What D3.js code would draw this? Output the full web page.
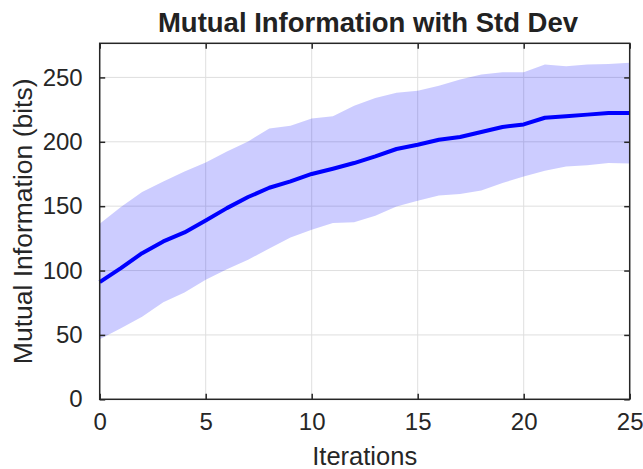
<!DOCTYPE html>
<html>
<head>
<meta charset="utf-8">
<script src="https://cdn.jsdelivr.net/npm/d3@7"></script>
<style>
  html, body { margin: 0; padding: 0; background: #fff; }
  svg { display: block; font-family: "Liberation Sans", Arial, Helvetica, sans-serif; }
</style>
</head>
<body>
<svg id="chart" width="643" height="469"></svg>
<script>
const iterations = [0,1,2,3,4,5,6,7,8,9,10,11,12,13,14,15,16,17,18,19,20,21,22,23,24,25];
const meanMI = [91.0,101.9,113.5,122.6,129.6,138.9,148.5,157.1,164.3,169.2,175.0,179.1,183.5,188.7,194.4,197.7,201.6,203.7,207.6,211.5,213.5,218.7,219.8,221.1,222.4,222.4];
const upperMI = [136.3,149.3,161.0,169.2,177.0,184.0,192.5,200.3,210.3,212.5,218.0,219.8,228.0,234.0,238.0,239.7,243.6,248.3,252.2,254.0,254.0,260.0,258.6,260.0,260.5,261.3];
const lowerMI = [46.7,55.2,64.2,75.4,82.9,92.8,101.1,108.3,117.2,125.7,131.6,136.9,137.6,142.5,149.8,154.2,158.2,159.4,162.2,168.0,173.1,177.5,180.9,181.7,183.5,183.2];
const xTicks = [0,5,10,15,20,25];
const yTicks = [0,50,100,150,200,250];
const titleText = "Mutual Information with Std Dev";
const xLabelText = "Iterations";
const yLabelText = "Mutual Information (bits)";

const svg = d3.select("#chart");
const L = 99.7, R = 629.7, T = 43.3, B = 399.3;
const x = d3.scaleLinear().domain([0, 25]).range([L, R]);
const y = d3.scaleLinear().domain([0, 276.5]).range([B, T]);
const axisColor = "#262626";
const tickLen = 5.5;

// grid
const grid = svg.append("g");
grid.selectAll(".gx").data(xTicks).enter().append("line")
  .attr("x1", d => x(d)).attr("x2", d => x(d)).attr("y1", T).attr("y2", B)
  .attr("stroke", "#dfdfdf").attr("stroke-width", 1);
grid.selectAll(".gy").data(yTicks).enter().append("line")
  .attr("x1", L).attr("x2", R).attr("y1", d => y(d)).attr("y2", d => y(d))
  .attr("stroke", "#dfdfdf").attr("stroke-width", 1);

// band
const data = iterations.map((it, i) => ({it, m: meanMI[i], u: upperMI[i], l: lowerMI[i]}));
svg.append("path").datum(data)
  .attr("d", d3.area().x(d => x(d.it)).y0(d => y(d.l)).y1(d => y(d.u)))
  .attr("fill", "rgb(0,0,255)").attr("fill-opacity", 0.2).attr("stroke", "none");

// mean line
svg.append("path").datum(data)
  .attr("d", d3.line().x(d => x(d.it)).y(d => y(d.m)))
  .attr("fill", "none").attr("stroke", "#0000ff").attr("stroke-width", 4)
  .attr("stroke-linejoin", "round");

// axes (MATLAB-style box with inward ticks)
const xAxisB = d3.axisBottom(x).tickValues(xTicks).tickSize(-tickLen).tickPadding(14).tickSizeOuter(0);
const xAxisT = d3.axisTop(x).tickValues(xTicks).tickSize(-tickLen).tickFormat("").tickSizeOuter(0);
const yAxisL = d3.axisLeft(y).tickValues(yTicks).tickSize(-tickLen).tickPadding(17).tickSizeOuter(0);
const yAxisR = d3.axisRight(y).tickValues(yTicks).tickSize(-tickLen).tickFormat("").tickSizeOuter(0);

function style(g) {
  g.select(".domain").remove();
  g.selectAll("line").attr("stroke", axisColor).attr("stroke-width", 1.5);
  g.selectAll("text").attr("fill", axisColor).style("font-size", "24px")
    .style("font-family", "'Liberation Sans', Arial, sans-serif");
}
svg.append("g").attr("transform", `translate(0,${B})`).call(xAxisB).call(style);
svg.append("g").attr("transform", `translate(0,${T})`).call(xAxisT).call(style);
svg.append("g").attr("transform", `translate(${L},0)`).call(yAxisL).call(style);
svg.append("g").attr("transform", `translate(${R},0)`).call(yAxisR).call(style);

// box
svg.append("rect").attr("x", L).attr("y", T).attr("width", R - L).attr("height", B - T)
  .attr("fill", "none").attr("stroke", axisColor).attr("stroke-width", 1.5);

// title & labels
svg.append("text").attr("x", 368).attr("y", 32).attr("text-anchor", "middle")
  .style("font-size", "27.5px").style("font-weight", "bold").attr("fill", "#222")
  .text(titleText);
svg.append("text").attr("x", (L + R) / 2).attr("y", 465).attr("text-anchor", "middle")
  .style("font-size", "25.5px").attr("fill", axisColor).text(xLabelText);
svg.append("text").attr("transform", `translate(32,${(T + B) / 2}) rotate(-90)`)
  .attr("text-anchor", "middle").style("font-size", "26.5px").attr("fill", axisColor)
  .text(yLabelText);
</script>
</body>
</html>
